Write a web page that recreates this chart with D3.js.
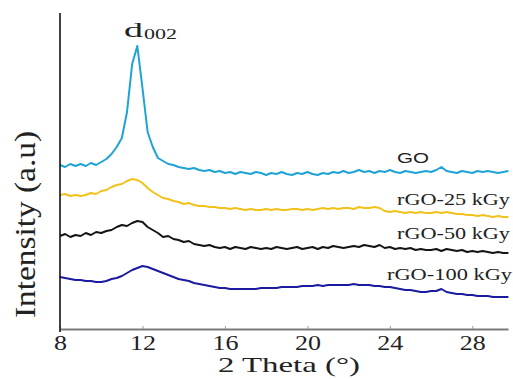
<!DOCTYPE html>
<html>
<head>
<meta charset="utf-8">
<script src="https://cdn.jsdelivr.net/npm/d3@7"></script>
<style>
	body { margin: 0; background: #fff; }
	svg { display: block; }
</style>
</head>
<body>
<svg id="chart" width="513" height="379"></svg>
<script>
var SERIF = "'Liberation Serif', 'Times New Roman', serif";
var SANS = "'Liberation Sans', Arial, sans-serif";

// 2 theta sampling (degrees), four points per degree
var twoTheta = [
	8, 8.25, 8.5, 8.75, 9, 9.25, 9.5, 9.75, 10, 10.25, 10.5, 10.75,
	11, 11.25, 11.5, 11.75, 12, 12.25, 12.5, 12.75, 13, 13.25, 13.5, 13.75,
	14, 14.25, 14.5, 14.75, 15, 15.25, 15.5, 15.75, 16, 16.25, 16.5, 16.75,
	17, 17.25, 17.5, 17.75, 18, 18.25, 18.5, 18.75, 19, 19.25, 19.5, 19.75,
	20, 20.25, 20.5, 20.75, 21, 21.25, 21.5, 21.75, 22, 22.25, 22.5, 22.75,
	23, 23.25, 23.5, 23.75, 24, 24.25, 24.5, 24.75, 25, 25.25, 25.5, 25.75,
	26, 26.25, 26.5, 26.75, 27, 27.25, 27.5, 27.75, 28, 28.25, 28.5, 28.75,
	29, 29.25, 29.5, 29.75
];

// intensities (a.u., curves already stacked with their offsets)
var goValues = [
	163, 161, 164, 162, 164, 162, 165, 163, 166, 169, 174, 181,
	190, 216, 264, 282, 240, 196, 181, 170, 167, 164, 163, 161,
	160, 159, 160, 158, 157, 158, 156, 157, 155, 156, 154, 156,
	155, 154, 156, 155, 153, 155, 154, 156, 154, 153, 155, 154,
	156, 154, 153, 155, 154, 156, 155, 157, 155, 156, 158, 156,
	157, 155, 157, 156, 158, 156, 155, 157, 156, 155, 156, 157,
	156, 158, 161, 157, 156, 155, 157, 156, 155, 157, 156, 157,
	156, 155, 156, 157
];
var rgo25Values = [
	133, 134, 132, 133, 132, 133, 135, 134, 137, 138, 141, 143,
	144, 147, 149, 148, 145, 140, 136, 133, 130, 129, 127, 126,
	124, 125, 123, 122, 122, 121, 121, 120, 120, 119, 120, 119,
	118, 119, 118, 118, 119, 118, 119, 118, 118, 119, 119, 118,
	119, 118, 119, 120, 119, 120, 119, 120, 120, 119, 121, 120,
	120, 121, 120, 117, 116, 117, 116, 115, 116, 115, 116, 115,
	115, 116, 115, 116, 115, 114, 114, 113, 113, 112, 113, 112,
	111, 112, 111, 111
];
var rgo50Values = [
	92, 94, 91, 93, 92, 95, 93, 96, 95, 97, 98, 101,
	103, 102, 105, 107, 106, 101, 98, 95, 91, 92, 89, 88,
	86, 87, 84, 83, 82, 83, 81, 80, 81, 79, 81, 80,
	79, 81, 80, 79, 80, 79, 81, 80, 79, 80, 81, 79,
	80, 81, 79, 81, 80, 82, 81, 80, 81, 82, 81, 83,
	82, 81, 83, 80, 81, 79, 80, 79, 80, 78, 79, 78,
	78, 79, 77, 79, 78, 77, 78, 76, 77, 76, 77, 76,
	75, 76, 75, 75
];
var rgo100Values = [
	51, 50, 49, 48, 48, 47, 47, 46, 46, 47, 49, 50,
	52, 55, 58, 60, 62, 61, 59, 57, 55, 53, 51, 49,
	48, 47, 45, 44, 43, 42, 41, 40, 40, 39, 39, 39,
	39, 39, 39, 40, 40, 40, 40, 41, 41, 41, 41, 42,
	42, 42, 43, 42, 43, 43, 43, 43, 43, 44, 43, 43,
	43, 42, 42, 41, 41, 40, 39, 38, 38, 37, 36, 36,
	37, 37, 39, 36, 35, 34, 34, 33, 33, 32, 32, 32,
	31, 31, 31, 31
];

var seriesNames = ["GO", "rGO-25 kGy", "rGO-50 kGy", "rGO-100 kGy"];
var seriesColors = ["#1fa3d6", "#f1c21b", "#141414", "#1b1ba0"];
var xTicks = [8, 12, 16, 20, 24, 28];

var svg = d3.select("#chart");

var x = d3.scaleLinear().domain([8, 29.73]).range([60, 508]);
var y = d3.scaleLinear().domain([0, 315]).range([328, 13]);

var allSeries = [goValues, rgo25Values, rgo50Values, rgo100Values];

var line = d3.line()
	.x(function(d) { return x(d[0]); })
	.y(function(d) { return y(d[1]); })
	.curve(d3.curveLinear);

svg.selectAll(".trace")
	.data(allSeries)
	.enter()
	.append("path")
	.attr("class", "trace")
	.attr("fill", "none")
	.attr("stroke", function(d, i) { return seriesColors[i]; })
	.attr("stroke-width", 2)
	.attr("stroke-linejoin", "round")
	.attr("d", function(vals) {
		return line(vals.map(function(v, i) { return [twoTheta[i], v]; }));
	});

// x axis, gray with short inner ticks
var xAxis = svg.append("g")
	.attr("transform", "translate(0," + (y(0) + 1) + ")")
	.call(d3.axisBottom(x).tickValues(xTicks).tickSize(-3).tickSizeOuter(0).tickFormat(d3.format("d")));

xAxis.select(".domain").attr("stroke", "#7a7a7a").attr("stroke-width", 2);
xAxis.selectAll(".tick line").attr("stroke", "#9a9a9a");
xAxis.selectAll(".tick text")
	.attr("y", 21)
	.attr("dy", null)
	.attr("fill", "#222")
	.style("font-family", SERIF)
	.style("font-size", "20px")
	.attr("textLength", function(d) { return String(d).length * 13; })
	.attr("lengthAdjust", "spacingAndGlyphs")
	.attr("x", function(d) { return -String(d).length * 6.5; })
	.attr("text-anchor", "start");

// y axis: plain black line, no ticks
svg.append("line")
	.attr("x1", x(8)).attr("x2", x(8))
	.attr("y1", y(315)).attr("y2", y(0) + 4)
	.attr("stroke", "#111")
	.attr("stroke-width", 1.6);

// axis titles
svg.append("text")
	.attr("x", 218).attr("y", 372)
	.attr("fill", "#222")
	.style("font-family", SERIF)
	.style("font-size", "21px")
	.attr("textLength", 142)
	.attr("lengthAdjust", "spacingAndGlyphs")
	.text("2 Theta (°)");

svg.append("text")
	.attr("transform", "translate(35,318) rotate(-90)")
	.attr("fill", "#222")
	.style("font-family", SERIF)
	.style("font-size", "30px")
	.attr("textLength", 187)
	.attr("lengthAdjust", "spacingAndGlyphs")
	.text("Intensity (a.u)");

// peak annotation
svg.append("text")
	.attr("x", 124).attr("y", 37)
	.attr("fill", "#222")
	.style("font-family", SERIF)
	.style("font-size", "21px")
	.attr("textLength", 19)
	.attr("lengthAdjust", "spacingAndGlyphs")
	.text("d");
svg.append("text")
	.attr("x", 144).attr("y", 39)
	.attr("fill", "#222")
	.style("font-family", SERIF)
	.style("font-size", "15px")
	.attr("textLength", 33)
	.attr("lengthAdjust", "spacingAndGlyphs")
	.text("002");

// curve labels
var labelPos = [
	{ x: 397, y: 163, w: 32, size: 15, font: SANS },
	{ x: 397, y: 205, w: 113, size: 16, font: SERIF },
	{ x: 397, y: 239, w: 113, size: 16, font: SERIF },
	{ x: 387, y: 280, w: 125, size: 16, font: SERIF }
];

svg.selectAll(".curve-label")
	.data(seriesNames)
	.enter()
	.append("text")
	.attr("class", "curve-label")
	.attr("x", function(d, i) { return labelPos[i].x; })
	.attr("y", function(d, i) { return labelPos[i].y; })
	.attr("fill", "#222")
	.attr("textLength", function(d, i) { return labelPos[i].w; })
	.attr("lengthAdjust", "spacingAndGlyphs")
	.style("font-size", function(d, i) { return labelPos[i].size + "px"; })
	.style("font-family", function(d, i) { return labelPos[i].font; })
	.text(function(d) { return d; });
</script>
</body>
</html>
